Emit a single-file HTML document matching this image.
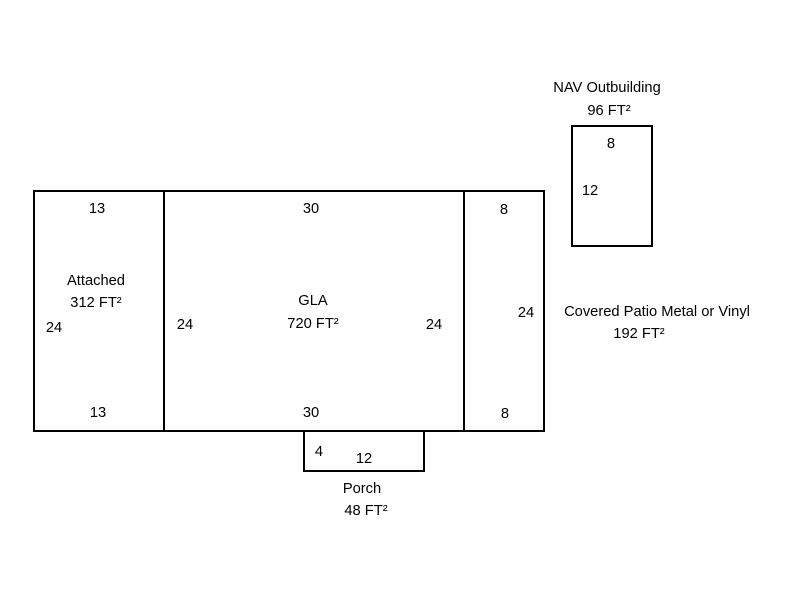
<!DOCTYPE html>
<html><head><style>
html,body{margin:0;padding:0;background:#fff;}
svg text{font-family:"Liberation Sans",Arial,sans-serif;font-size:14.7px;fill:#000;text-anchor:middle;}
</style></head><body>
<svg width="800" height="600" viewBox="0 0 800 600" xmlns="http://www.w3.org/2000/svg">
<g fill="none" stroke="#000" stroke-width="2">
<rect x="34" y="191" width="130" height="240"/>
<rect x="164" y="191" width="300" height="240"/>
<rect x="464" y="191" width="80" height="240"/>
<rect x="304" y="431" width="120" height="40"/>
<rect x="572" y="126" width="80" height="120"/>
</g>
<text x="97" y="213">13</text>
<text x="96" y="285">Attached</text>
<text x="96" y="307">312 FT²</text>
<text x="54" y="332">24</text>
<text x="98" y="417">13</text>
<text x="311" y="213">30</text>
<text x="313" y="305">GLA</text>
<text x="313" y="328">720 FT²</text>
<text x="185" y="329">24</text>
<text x="434" y="329">24</text>
<text x="311" y="417">30</text>
<text x="504" y="214">8</text>
<text x="526" y="317">24</text>
<text x="505" y="418">8</text>
<text x="319" y="456">4</text>
<text x="364" y="463">12</text>
<text x="362" y="493">Porch</text>
<text x="366" y="515">48 FT²</text>
<text x="607" y="92">NAV Outbuilding</text>
<text x="609" y="115">96 FT²</text>
<text x="611" y="148">8</text>
<text x="590" y="195">12</text>
<text x="657" y="316">Covered Patio Metal or Vinyl</text>
<text x="639" y="338">192 FT²</text>
</svg>
</body></html>
